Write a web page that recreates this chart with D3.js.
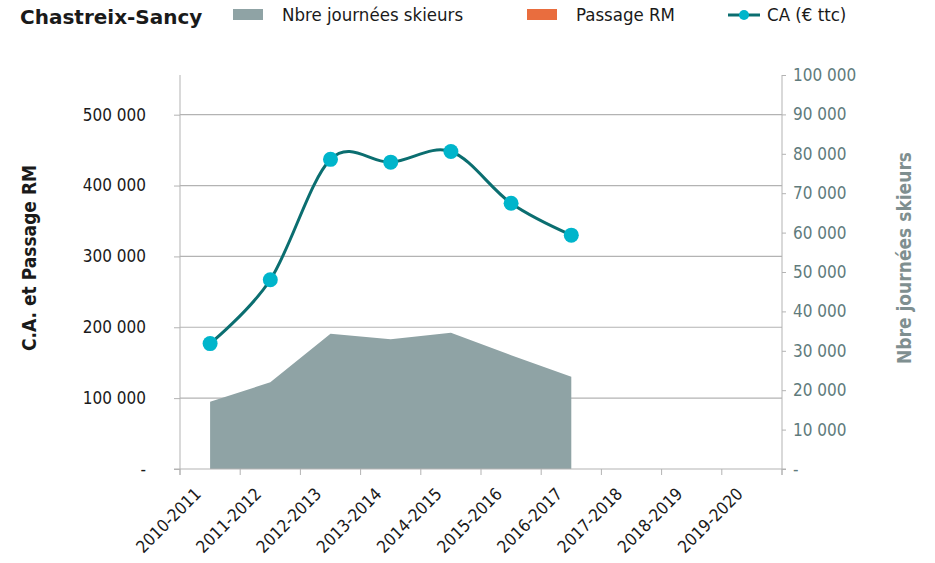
<!DOCTYPE html>
<html>
<head>
<meta charset="utf-8">
<script src="https://cdn.jsdelivr.net/npm/d3@7"></script>
<style>
  body { margin: 0; background: #fff; }
  text { font-family: "DejaVu Sans Condensed", "DejaVu Sans", sans-serif; }
</style>
</head>
<body>
<div id="chart"></div>
<script>
// seasons on the x axis
const seasons = ["2010-2011", "2011-2012", "2012-2013", "2013-2014", "2014-2015",
                 "2015-2016", "2016-2017", "2017-2018", "2018-2019", "2019-2020"];
// Nbre journées skieurs (right axis)
const skierDays = [17100, 22000, 34300, 32900, 34600, 28900, 23400];
// CA (€ ttc) (left axis)
const turnover = [177000, 267000, 437000, 433000, 448000, 375000, 330000];
// Passage RM : no values in the picture
const passageRM = [];

const leftTicks = [0, 100000, 200000, 300000, 400000, 500000];
const rightTicks = [0, 10000, 20000, 30000, 40000, 50000, 60000, 70000, 80000, 90000, 100000];

const width = 935, height = 563;
const margin = {top: 75, right: 153, bottom: 94, left: 180};
const plotW = width - margin.left - margin.right;
const plotH = height - margin.top - margin.bottom;

const fmt = v => v === 0 ? "-" : d3.format(",")(v).replace(/,/g, " ");

const svg = d3.select("#chart").append("svg")
    .attr("width", width)
    .attr("height", height);

const g = svg.append("g").attr("transform", `translate(${margin.left},${margin.top})`);

// scales
let x = d3.scaleBand().domain(seasons).range([0, plotW]);
let yLeft = d3.scaleLinear().domain([0, 556000]).range([plotH, 0]);
let yRight = d3.scaleLinear().domain([0, 100000]).range([plotH, 0]);

// gridlines
g.selectAll(".grid")
    .data(leftTicks.slice(1))
    .enter().append("line")
    .attr("x1", 0).attr("x2", plotW)
    .attr("y1", d => yLeft(d)).attr("y2", d => yLeft(d))
    .attr("stroke", "#b3b3b3").attr("stroke-width", 1.2);

// area for skier days
const area = d3.area()
    .x((d, i) => x(seasons[i]) + x.bandwidth() / 2)
    .y0(plotH)
    .y1(d => yRight(d));

g.append("path")
    .datum(skierDays)
    .attr("d", area)
    .attr("fill", "#8fa3a5");

// left axis
const axL = g.append("g")
    .call(d3.axisLeft(yLeft).tickValues(leftTicks).tickSize(6).tickPadding(28).tickFormat(fmt));
axL.select(".domain").attr("stroke", "#b3b3b3").attr("d", `M0,0V${plotH + 6}`);
axL.selectAll(".tick line").attr("stroke", "#b3b3b3");
axL.selectAll("text").attr("font-size", 17).attr("fill", "#1a1a1a");

// right axis
const axR = g.append("g")
    .attr("transform", `translate(${plotW},0)`)
    .call(d3.axisRight(yRight).tickValues(rightTicks).tickSize(4).tickPadding(7).tickFormat(fmt));
axR.select(".domain").attr("stroke", "#b3b3b3").attr("d", `M0,0V${plotH + 6}`);
axR.selectAll(".tick line").attr("stroke", "#b3b3b3");
axR.selectAll("text").attr("font-size", 17).attr("fill", "#5f7b7c");

// bottom axis
g.append("line")
    .attr("x1", -6).attr("x2", plotW + 4)
    .attr("y1", plotH).attr("y2", plotH)
    .attr("stroke", "#b3b3b3").attr("stroke-width", 1.2);

g.selectAll(".xtick")
    .data(seasons.concat(["end"]))
    .enter().append("line")
    .attr("x1", (d, i) => i * x.bandwidth())
    .attr("x2", (d, i) => i * x.bandwidth())
    .attr("y1", plotH).attr("y2", plotH + 6)
    .attr("stroke", "#b3b3b3");

g.selectAll(".xlabel")
    .data(seasons)
    .enter().append("text")
    .attr("text-anchor", "end")
    .attr("font-size", 17)
    .attr("fill", "#1a1a1a")
    .attr("transform", d => `translate(${x(d) + x.bandwidth() / 2 - 8},${plotH + 26}) rotate(-45)`)
    .text(d => d);

// turnover line
const line = d3.line()
    .x((d, i) => x(seasons[i]) + x.bandwidth() / 2)
    .y(d => yLeft(d))
    .curve(d3.curveCardinal.tension(0));

g.append("path")
    .datum(turnover)
    .attr("d", line)
    .attr("fill", "none")
    .attr("stroke", "#0b6e70")
    .attr("stroke-width", 3);

g.selectAll(".dot")
    .data(turnover)
    .enter().append("circle")
    .attr("cx", (d, i) => x(seasons[i]) + x.bandwidth() / 2)
    .attr("cy", d => yLeft(d))
    .attr("r", 7.5)
    .attr("fill", "#00b5cb");

// axis titles
svg.append("text")
    .attr("transform", `translate(36,${margin.top + plotH / 2 - 14}) rotate(-90)`)
    .attr("text-anchor", "middle")
    .attr("font-size", 19)
    .attr("font-weight", "bold")
    .attr("fill", "#1a1a1a")
    .text("C.A. et Passage RM");

svg.append("text")
    .attr("transform", `translate(911,${margin.top + plotH / 2 - 14}) rotate(-90)`)
    .attr("text-anchor", "middle")
    .attr("font-size", 19)
    .attr("font-weight", "bold")
    .attr("fill", "#7f8f90")
    .text("Nbre journées skieurs");

// title
svg.append("text")
    .attr("x", 20).attr("y", 24)
    .style("font-family", "'DejaVu Sans', sans-serif")
    .attr("font-size", 20)
    .attr("font-weight", "bold")
    .attr("fill", "#1a1a1a")
    .text("Chastreix-Sancy");

// legend
const legend = svg.append("g");
legend.append("rect").attr("x", 233).attr("y", 9).attr("width", 30).attr("height", 11).attr("fill", "#8fa3a5");
legend.append("text").attr("x", 282).attr("y", 21).attr("font-size", 18.5).attr("fill", "#1a1a1a").text("Nbre journées skieurs");
legend.append("rect").attr("x", 527).attr("y", 9).attr("width", 30).attr("height", 11).attr("fill", "#e96d3e");
legend.append("text").attr("x", 576).attr("y", 21).attr("font-size", 18.5).attr("fill", "#1a1a1a").text("Passage RM");
legend.append("line").attr("x1", 728).attr("x2", 760).attr("y1", 15).attr("y2", 15).attr("stroke", "#0b6e70").attr("stroke-width", 3);
legend.append("circle").attr("cx", 744).attr("cy", 15).attr("r", 5).attr("fill", "#00b5cb");
legend.append("text").attr("x", 767).attr("y", 21).attr("font-size", 18.5).attr("fill", "#1a1a1a").text("CA (€ ttc)");
</script>
</body>
</html>
